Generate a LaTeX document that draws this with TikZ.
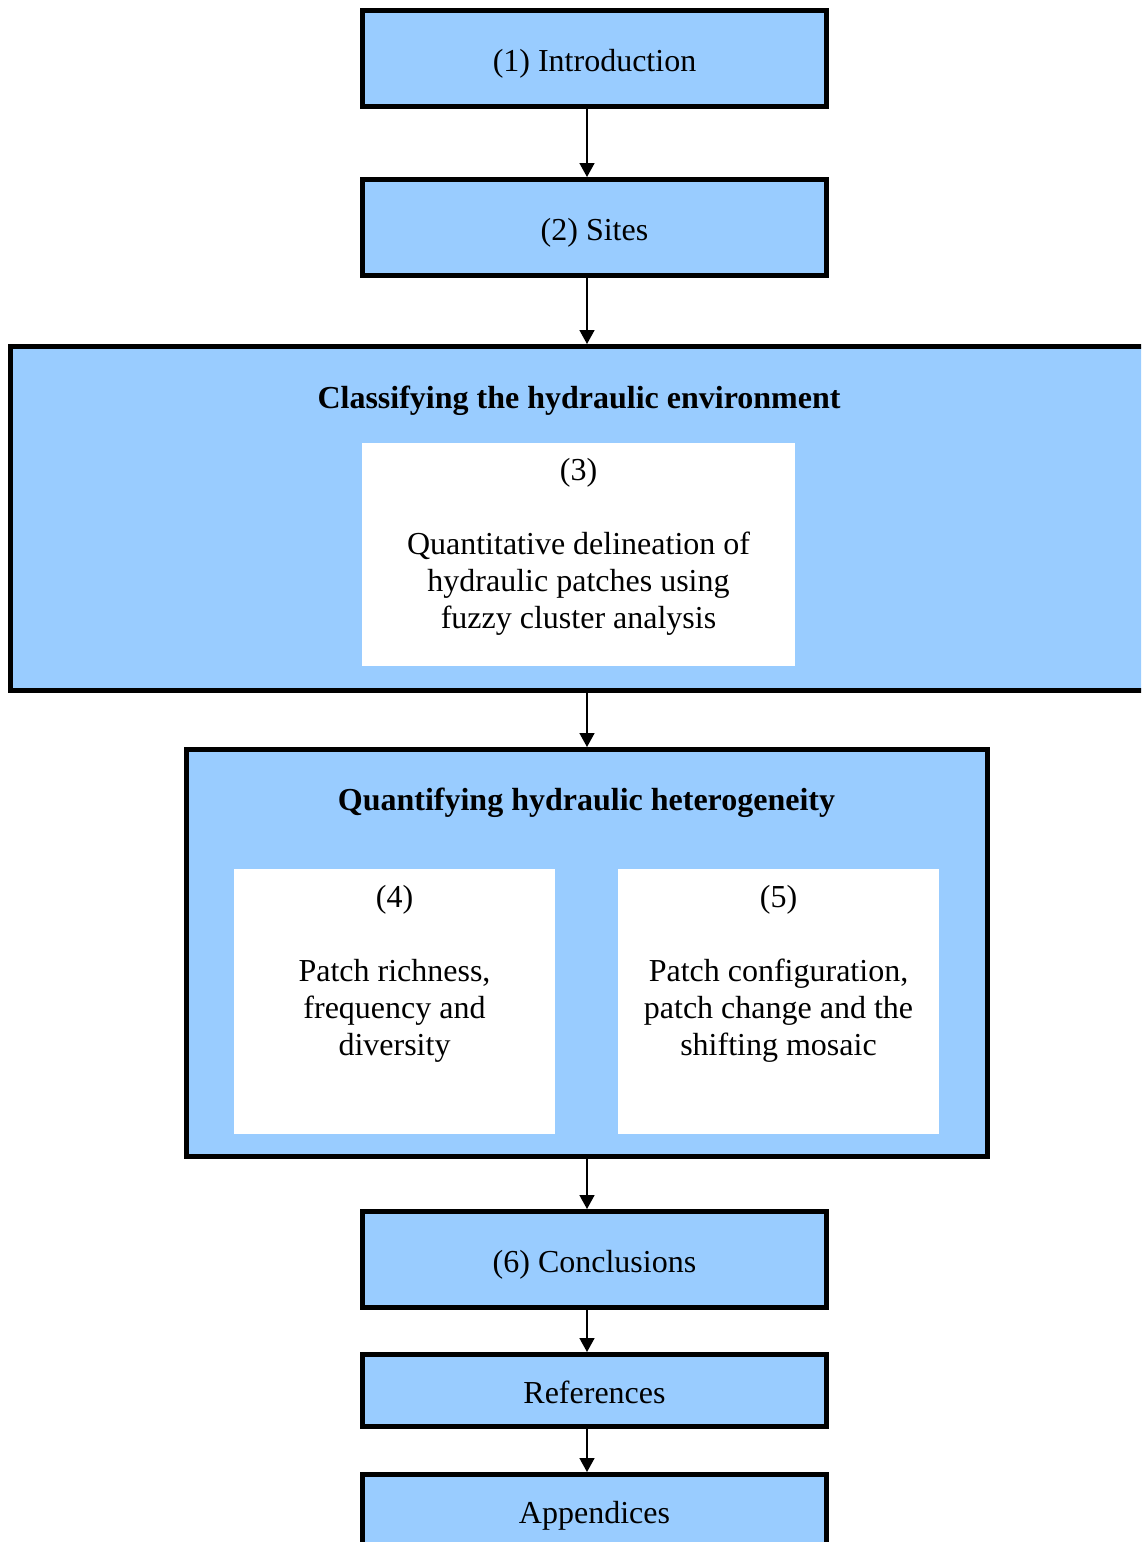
\documentclass[tikz,border=0pt]{standalone}
\usepackage{fontspec}
\setmainfont{Liberation Serif}
\usetikzlibrary{arrows.meta}
\definecolor{boxblue}{HTML}{99CCFF}
\begin{document}
\begin{tikzpicture}[x=1pt,y=-1pt,
  every node/.style={font=\fontsize{32}{37}\selectfont, inner sep=0pt},
  secbox/.style={draw=black, line width=5pt, fill=boxblue, rectangle, text height=25pt, text depth=0pt},
  groupbox/.style={draw=black, line width=5pt, fill=boxblue, rectangle},
  innerbox/.style={fill=white, draw=none, rectangle},
  txt/.style={align=center, anchor=base},
  ttl/.style={anchor=base, font=\bfseries\fontsize{32}{37}\selectfont},
  conn/.style={line width=1.6pt, -{Triangle[width=15pt,length=14pt]}}
]
\useasboundingbox (0,0) rectangle (1141,1542);
\clip (0,0) rectangle (1141,1542);
\node[secbox, minimum width=464pt, minimum height=96pt] (s1) at (594.5,58.5) {(1) Introduction};
\node[secbox, minimum width=464pt, minimum height=96pt] (s2) at (594.5,227.5) {(2) Sites};
\node[groupbox, minimum width=1137pt, minimum height=344pt] (cls) at (579,518.5) {};
\node[ttl] (clst) at (579,408) {Classifying the hydraulic environment};
\node[innerbox, minimum width=433pt, minimum height=223pt] (i3) at (578.5,554.5) {};
\node[txt] (t3) at (578.5,628) {(3)\\[37pt]Quantitative delineation of\\hydraulic patches using\\fuzzy cluster analysis};
\node[groupbox, minimum width=801pt, minimum height=407pt] (q) at (587,953) {};
\node[ttl] (qt) at (586.5,810) {Quantifying hydraulic heterogeneity};
\node[innerbox, minimum width=321pt, minimum height=265pt] (i4) at (394.5,1001.5) {};
\node[innerbox, minimum width=321pt, minimum height=265pt] (i5) at (778.5,1001.5) {};
\node[txt] (t4) at (394.5,1055) {(4)\\[37pt]Patch richness,\\frequency and\\diversity};
\node[txt] (t5) at (778.5,1055) {(5)\\[37pt]Patch configuration,\\patch change and the\\shifting mosaic};
\node[secbox, minimum width=464pt, minimum height=96pt] (s6) at (594.5,1259.5) {(6) Conclusions};
\node[secbox, minimum width=464pt, minimum height=72pt] (ref) at (594.5,1390.5) {References};
\node[secbox, minimum width=464pt, minimum height=72pt] (app) at (594.5,1510.5) {Appendices};
\draw[conn] (s1.south -| q.center) -- (s2.north -| q.center);
\draw[conn] (s2.south -| q.center) -- (cls.north -| q.center);
\draw[conn] (cls.south -| q.center) -- (q.north);
\draw[conn] (q.south) -- (s6.north -| q.center);
\draw[conn] (s6.south -| q.center) -- (ref.north -| q.center);
\draw[conn] (ref.south -| q.center) -- (app.north -| q.center);
\end{tikzpicture}
\end{document}
